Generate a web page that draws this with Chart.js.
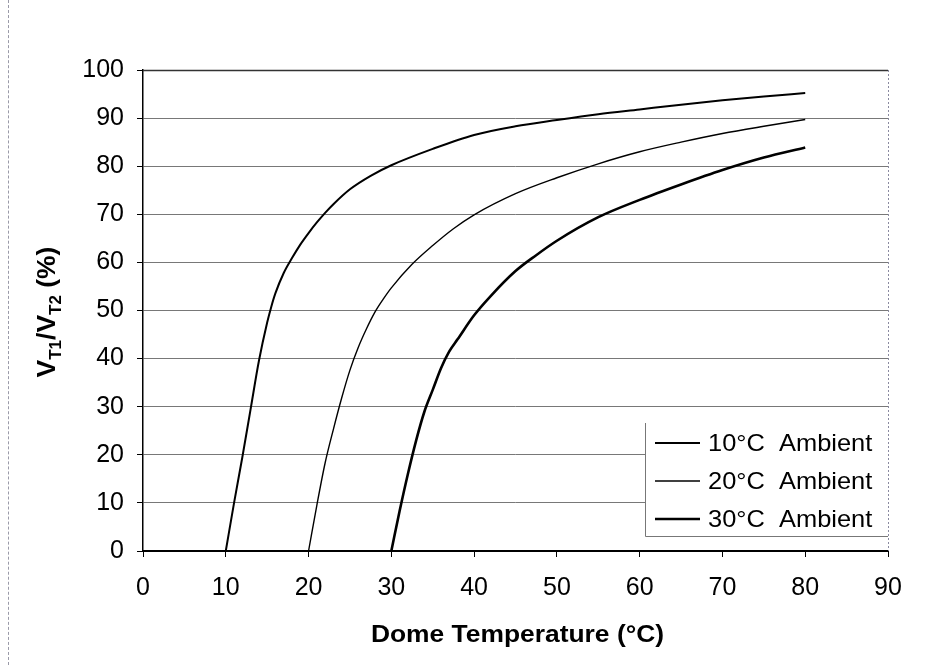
<!DOCTYPE html>
<html>
<head>
<meta charset="utf-8">
<script src="https://cdn.jsdelivr.net/npm/chart.js@4.4.1/dist/chart.umd.min.js"></script>
<style>
  html, body { margin: 0; padding: 0; background: #fff; }
  #wrap { position: relative; width: 938px; height: 665px; }
  #edge { position: absolute; left: 8px; top: 0; width: 0; height: 665px; border-left: 1px dashed #9a9aa8; }
  canvas { display: block; }
</style>
</head>
<body>
<div id="wrap">
  <div id="edge"></div>
  <canvas id="c" width="938" height="665"></canvas>
</div>
<script>
// Dome temperature (°C) vs. V_T1/V_T2 (%) for three ambient temperatures
const seriesLabels = ['10°C  Ambient', '20°C  Ambient', '30°C  Ambient'];

const temps10 = [10, 11, 12, 13, 14, 15, 15.5, 16, 17, 18, 19, 20, 21, 22, 23, 25, 27.5, 30, 35, 40, 45, 50, 55, 60, 65, 70, 75, 80];
const vals10  = [0, 10, 19.5, 29.5, 39.5, 47.5, 50.8, 53.6, 57.8, 60.9, 63.7, 66.1, 68.3, 70.3, 72.1, 75.2, 78, 80.2, 83.6, 86.5, 88.3, 89.6, 90.8, 91.8, 92.8, 93.7, 94.5, 95.2];

const temps20 = [20, 21, 22, 23, 24, 25, 26, 27, 28, 29, 30, 32.5, 35, 37.5, 40, 45, 50, 55, 60, 65, 70, 75, 80];
const vals20  = [0, 9.5, 18.3, 25.3, 31.8, 37.6, 42.3, 46.2, 49.6, 52.3, 54.7, 59.6, 63.5, 67, 69.9, 74.3, 77.6, 80.5, 83, 85, 86.8, 88.3, 89.7];

const temps30 = [30, 31, 32, 33, 34, 35, 36, 37, 38, 40, 42, 45, 47.5, 50, 55, 60, 65, 70, 75, 80];
const vals30  = [0, 8.3, 16, 23, 29, 33.5, 38, 41.5, 44, 49, 53, 58.2, 61.5, 64.5, 69.4, 73, 76.2, 79.2, 81.8, 83.9];

const xTicks = [0, 10, 20, 30, 40, 50, 60, 70, 80, 90];
const yTicks = [0, 10, 20, 30, 40, 50, 60, 70, 80, 90, 100];

const lineWidths = [2, 1.4, 2.6];

function pairs(xs, ys) { return xs.map((x, i) => ({ x: x, y: ys[i] })); }

const FONT = '"Liberation Sans", Arial, sans-serif';

// Plot frame drawn over the grid
const framePlugin = {
  id: 'frame',
  beforeDatasetsDraw(chart) {
    const { ctx, chartArea: a } = chart;
    ctx.save();
    ctx.strokeStyle = '#333';
    ctx.lineWidth = 1.5;
    ctx.beginPath();
    ctx.moveTo(a.left, a.top + 0.5);
    ctx.lineTo(a.right, a.top + 0.5);
    ctx.stroke();
    ctx.strokeStyle = '#8a8aa0';
    ctx.lineWidth = 1;
    ctx.setLineDash([2, 2]);
    ctx.beginPath();
    ctx.moveTo(a.right + 0.5, a.top);
    ctx.lineTo(a.right + 0.5, a.bottom);
    ctx.stroke();
    ctx.restore();
  }
};

// Axis titles (y title carries subscripts) and the boxed legend
const textPlugin = {
  id: 'texts',
  afterDraw(chart) {
    const { ctx, chartArea: a } = chart;
    ctx.save();
    ctx.fillStyle = '#000';

    // x title, slightly widened lettering
    ctx.font = 'bold 24px ' + FONT;
    ctx.textAlign = 'center';
    ctx.textBaseline = 'alphabetic';
    ctx.save();
    ctx.translate((a.left + a.right) / 2 + 2, 642);
    ctx.scale(1.1, 1);
    ctx.fillText('Dome Temperature (°C)', 0, 0);
    ctx.restore();

    // y title with subscripts
    const parts = [
      { t: 'V', s: 25, dy: 0 },
      { t: 'T1', s: 16, dy: 6 },
      { t: '/V', s: 25, dy: 0 },
      { t: 'T2', s: 16, dy: 6 },
      { t: ' (%)', s: 25, dy: 0 }
    ];
    let total = 0;
    parts.forEach(p => { ctx.font = 'bold ' + p.s + 'px ' + FONT; p.w = ctx.measureText(p.t).width * 1.06; total += p.w; });
    ctx.translate(55, 312);
    ctx.rotate(-Math.PI / 2);
    ctx.textAlign = 'left';
    let x = -total / 2;
    parts.forEach(p => {
      ctx.font = 'bold ' + p.s + 'px ' + FONT;
      ctx.save();
      ctx.translate(x, p.dy);
      ctx.scale(1.06, 1);
      ctx.fillText(p.t, 0, 0);
      ctx.restore();
      x += p.w;
    });
    ctx.restore();

    // legend box
    ctx.save();
    const bx = 645, by = 423, bw = a.right - 645, bh = 113;
    ctx.fillStyle = '#fff';
    ctx.fillRect(bx, by, bw, bh);
    ctx.strokeStyle = '#777';
    ctx.lineWidth = 1;
    ctx.beginPath();
    ctx.moveTo(bx + 0.5, by);
    ctx.lineTo(bx + 0.5, by + bh + 0.5);
    ctx.lineTo(bx + bw, by + bh + 0.5);
    ctx.stroke();
    ctx.font = '24px ' + FONT;
    ctx.textAlign = 'left';
    ctx.textBaseline = 'middle';
    chart.data.datasets.forEach((ds, i) => {
      const y = 443 + i * 38;
      ctx.strokeStyle = ds.borderColor;
      ctx.lineWidth = ds.borderWidth;
      ctx.beginPath();
      ctx.moveTo(655, y);
      ctx.lineTo(700, y);
      ctx.stroke();
      ctx.fillStyle = '#000';
      ctx.save();
      ctx.translate(708, y + 1);
      ctx.scale(1.06, 1);
      ctx.fillText(ds.label, 0, 0);
      ctx.restore();
    });
    ctx.restore();
  }
};

new Chart(document.getElementById('c'), {
  type: 'scatter',
  data: {
    datasets: [
      { label: seriesLabels[0], data: pairs(temps10, vals10) },
      { label: seriesLabels[1], data: pairs(temps20, vals20) },
      { label: seriesLabels[2], data: pairs(temps30, vals30) }
    ].map((d, i) => Object.assign(d, {
      showLine: true,
      borderColor: '#000',
      backgroundColor: '#000',
      borderWidth: lineWidths[i],
      pointRadius: 0,
      cubicInterpolationMode: 'monotone',
      clip: false
    }))
  },
  options: {
    responsive: false,
    animation: false,
    layout: { padding: { left: 0, right: 50, top: 70, bottom: 0 } },
    plugins: { legend: { display: false }, tooltip: { enabled: false }, title: { display: false } },
    scales: {
      x: {
        type: 'linear',
        min: 0, max: 90,
        afterFit(scale) { scale.height = 114; },
        afterBuildTicks(scale) { scale.ticks = xTicks.map(v => ({ value: v })); },
        grid: { drawOnChartArea: false, drawTicks: true, tickLength: 6, tickColor: '#000', color: '#000' },
        border: { color: '#000', width: 2 },
        ticks: { color: '#000', font: { family: FONT, size: 25 }, padding: 16, maxRotation: 0 }
      },
      y: {
        type: 'linear',
        min: 0, max: 100,
        afterFit(scale) { scale.width = 143; },
        afterBuildTicks(scale) { scale.ticks = yTicks.map(v => ({ value: v })); },
        grid: { drawOnChartArea: true, drawTicks: true, tickLength: 6, color: '#787878', tickColor: '#000', lineWidth: 1 },
        border: { color: '#000', width: 1.5 },
        ticks: { color: '#000', font: { family: FONT, size: 25 }, padding: 13 }
      }
    }
  },
  plugins: [framePlugin, textPlugin]
});
</script>
</body>
</html>
